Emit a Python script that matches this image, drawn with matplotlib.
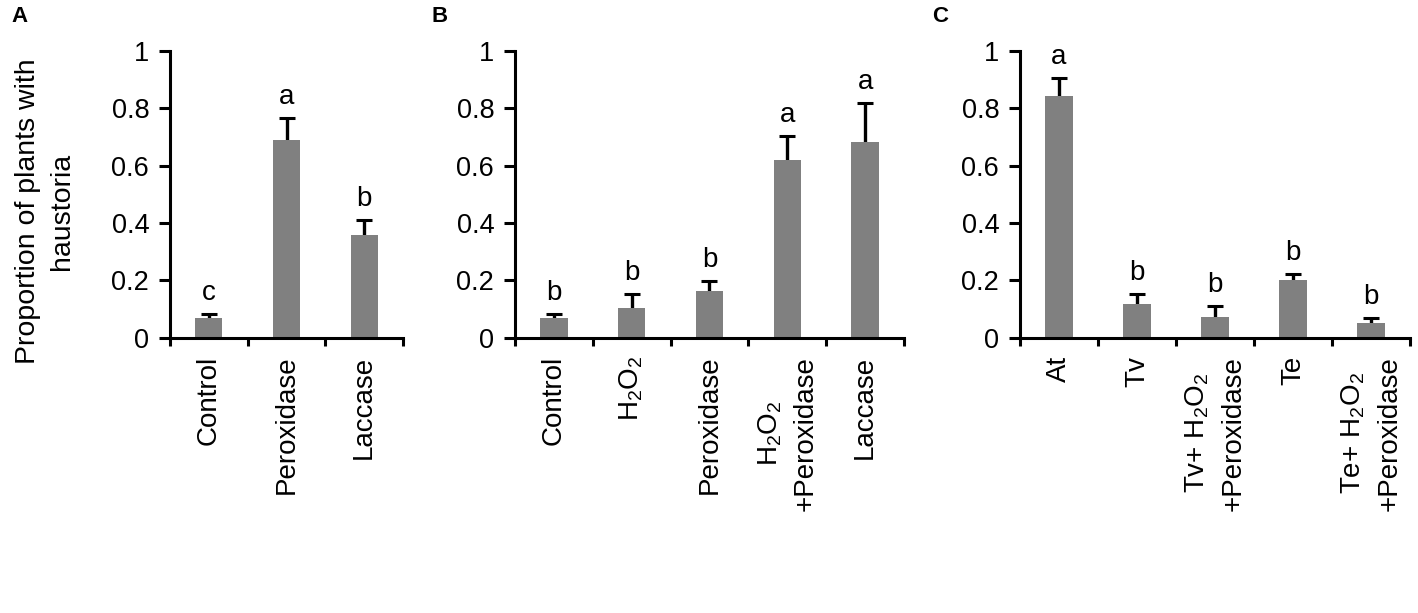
import numpy as np
import matplotlib
matplotlib.use("Agg")
import matplotlib.pyplot as plt

plt.rcParams['font.family'] = ['Liberation Sans', 'DejaVu Sans']
plt.rcParams['mathtext.fontset'] = 'custom'
plt.rcParams['mathtext.rm'] = 'Liberation Sans'
plt.rcParams['mathtext.default'] = 'regular'

# panel A
labelsA = ["Control", "Peroxidase", "Laccase"]
meansA = [0.069, 0.688, 0.358]
errA = [0.014, 0.079, 0.052]
lettersA = ["c", "a", "b"]

# panel B
labelsB = ["Control", "H$_2$O$_2$", "Peroxidase", "H$_2$O$_2$\n+Peroxidase", "Laccase"]
meansB = [0.068, 0.105, 0.163, 0.618, 0.681]
errB = [0.015, 0.047, 0.035, 0.085, 0.136]
lettersB = ["b", "b", "b", "a", "a"]

# panel C
labelsC = ["At", "Tv", "Tv+ H$_2$O$_2$\n+Peroxidase", "Te", "Te+ H$_2$O$_2$\n+Peroxidase"]
meansC = [0.844, 0.119, 0.073, 0.203, 0.050]
errC = [0.061, 0.035, 0.037, 0.021, 0.020]
lettersC = ["a", "b", "b", "b", "b"]

yticks = [0, 0.2, 0.4, 0.6, 0.8, 1]

fig = plt.figure(figsize=(14.18, 6.13), dpi=100)


def draw_panel(rect, labels, means, err, letters, tag, tagx):
    ax = fig.add_axes(rect)
    n = len(means)
    x = np.arange(n)
    ax.bar(x, means, width=0.35, color="#808080", zorder=2)
    # only the upper half of the error bar is shown
    eb = ax.errorbar(x, means, yerr=[np.zeros(n), err], fmt="none", ecolor="black",
                     elinewidth=2.4, capsize=5.5, capthick=2.2, zorder=1)
    for cap in eb[1]:
        if np.allclose(cap.get_ydata(), means):
            cap.set_visible(False)
    for xi, m, e, let in zip(x, means, err, letters):
        ax.annotate(let, (xi, m + e), xytext=(0, 10), textcoords="offset points",
                    ha="center", va="baseline", fontsize=20, annotation_clip=False)
    ax.set_xlim(-0.5, n - 0.5)
    ax.set_ylim(0, 1)
    ax.set_yticks(yticks)
    ax.set_yticklabels(["%g" % t for t in yticks])
    ax.set_xticks(np.arange(n + 1) - 0.5)
    ax.set_xticklabels([])
    ax.set_xticks(x, minor=True)
    ax.set_xticklabels(labels, minor=True, rotation=90, fontsize=20, linespacing=1.45)
    ax.tick_params(axis="x", which="minor", length=0, pad=13)
    ax.tick_params(axis="x", which="major", length=6, width=2.2, direction="out")
    ax.tick_params(axis="y", length=8, width=2.2, direction="out", labelsize=19.5, pad=7)
    for s in ["top", "right"]:
        ax.spines[s].set_visible(False)
    for s in ["left", "bottom"]:
        ax.spines[s].set_linewidth(2.2)
    fig.text(tagx, 0.99, tag, fontsize=16, fontweight="bold", ha="left", va="top")
    return ax


draw_panel([0.1199, 0.449, 0.1643, 0.468], labelsA, meansA, errA, lettersA, "A", 0.008)
draw_panel([0.3632, 0.449, 0.2743, 0.468], labelsB, meansB, errB, lettersB, "B", 0.304)
draw_panel([0.7193, 0.449, 0.2750, 0.468], labelsC, meansC, errC, lettersC, "C", 0.657)

fig.text(45 / 1418, 1 - 211 / 613, "Proportion of plants with\nhaustoria", rotation=90,
         ha="center", va="center", fontsize=20.5, linespacing=1.4)

fig.savefig("out.png", dpi=100)
